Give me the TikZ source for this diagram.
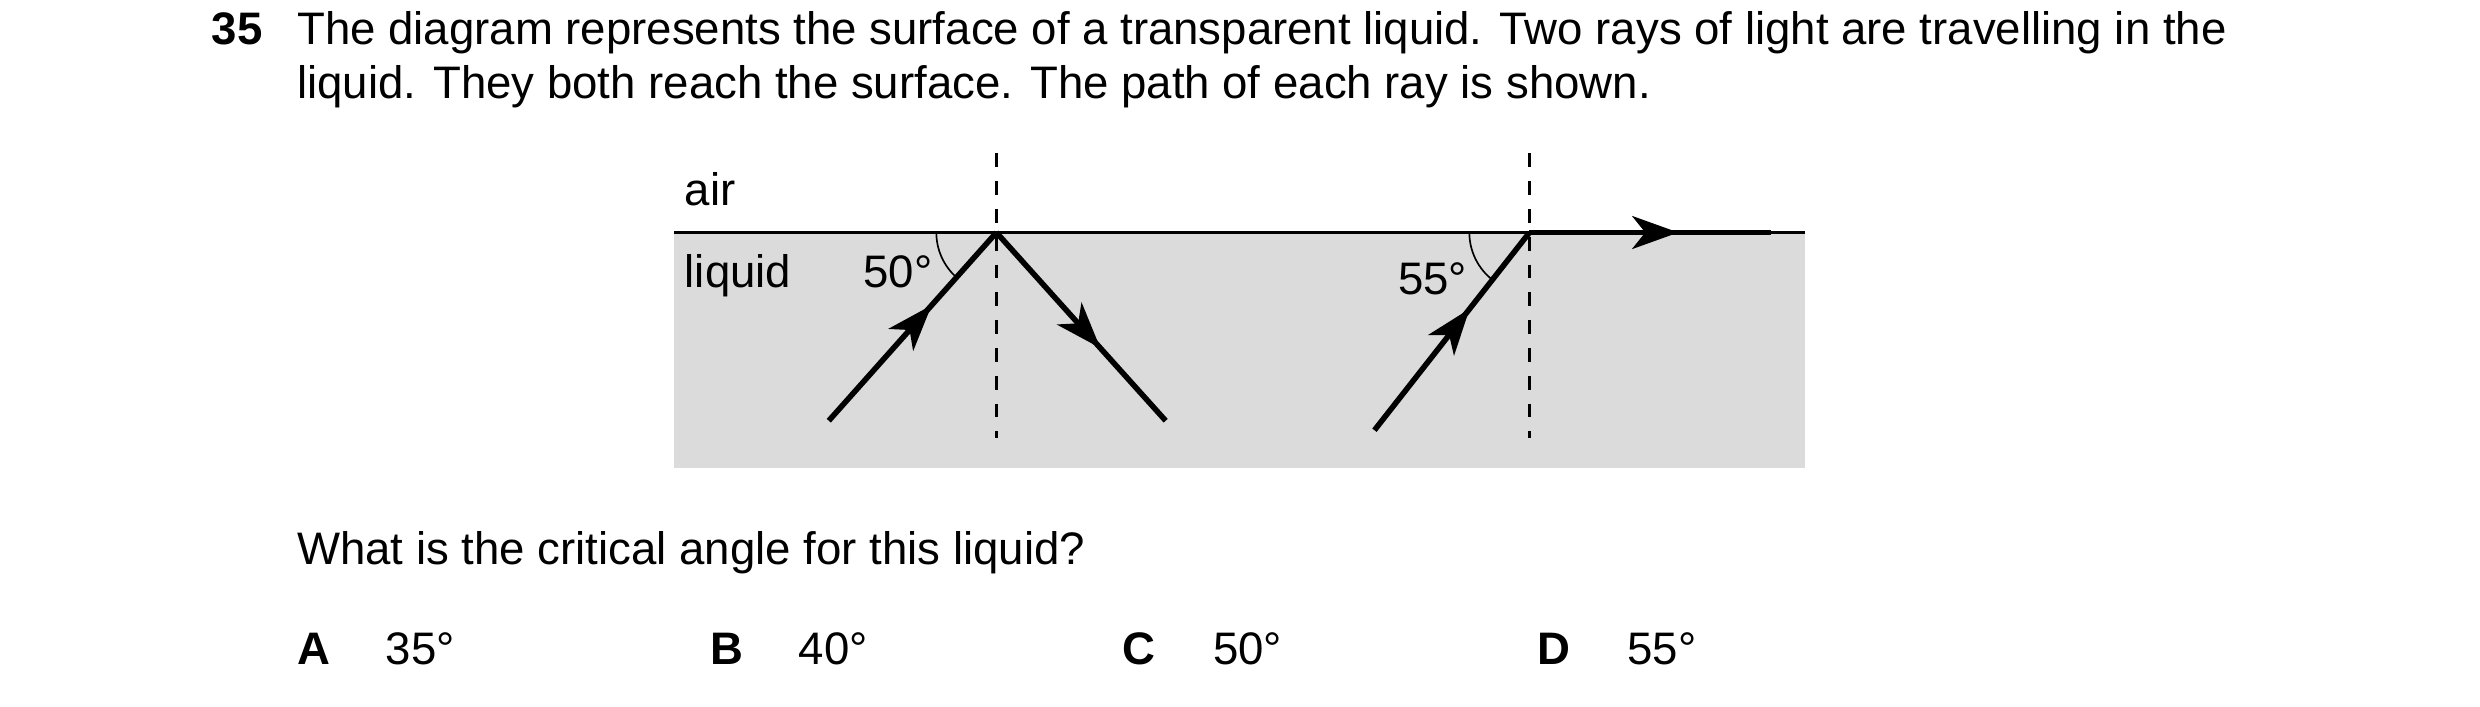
\documentclass[tikz,border=0pt]{standalone}
\usepackage{fontspec}
\setmainfont{Liberation Sans}
\usetikzlibrary{decorations.markings,arrows.meta}
\tikzset{every path/.style={line width=1.1pt}}
\tikzset{ray/.style={line width=2pt,decoration={markings,mark=at position 0.6 with {\arrow{Stealth[length=14pt,width=10pt,inset=4pt]}}},postaction={decorate}},
  normal/.style={line width=0.8pt,dash pattern=on 5pt off 5pt},
  txt/.style={anchor=base west,inner sep=0pt,font=\fontsize{16.4}{19}\selectfont}}

\begin{document}
\begin{tikzpicture}[x=0.02cm,y=-0.02cm]
    \useasboundingbox (0,0) rectangle (1568,447);
    \fill[gray!28] (426,147) rectangle (1141,296);
    \coordinate (L) at (426,147);
    \coordinate (R) at (1141,147);
    \draw[line width=1pt] (L) -- (R);
    \node[txt,font=\fontsize{16.4}{19}\selectfont\bfseries] (num) at (133,28) {35};
    \node[txt] (q1) at (187,28) {The diagram represents the surface of a transparent liquid. Two rays of light are travelling in the};
    \node[txt] (q2) at (187,62) {liquid. They both reach the surface. The path of each ray is shown.};
    \node[txt] (air) at (432,130) {air};
    \node[txt] (liq) at (432,182) {liquid};
    \node[txt] (a50) at (545,182) {50°};
    \node[txt] (a55) at (883,186) {55°};
    \coordinate (P) at (630,147);
    \coordinate (Q) at (967,147);
    \coordinate (n1t) at (630,97);
    \coordinate (n1b) at (630,277);
    \coordinate (n2t) at (967,97);
    \coordinate (n2b) at (967,277);
    \coordinate (s1) at (524,266);
    \coordinate (e1) at (737,266);
    \coordinate (s2) at (869,272);
    \coordinate (e2) at (1120,147);
    \draw[normal] (n1t) -- (n1b);
    \draw[normal] (n2t) -- (n2b);
    \draw[ray] (s1) -- (P);
    \draw[ray] (P) -- (e1);
    \draw[ray] (s2) -- (Q);
    \draw[ray] (Q) -- (e2);
    \draw[line width=0.6pt] (P) ++(180:38) arc (180:131.7:38);
    \draw[line width=0.6pt] (Q) ++(180:38) arc (180:128.1:38);
    \node[txt] (q3) at (187,357) {What is the critical angle for this liquid?};
    \node[txt,font=\fontsize{16.4}{19}\selectfont\bfseries] (oA) at (187,420) {A};
    \node[txt] (vA) at (243,420) {35°};
    \node[txt,font=\fontsize{16.4}{19}\selectfont\bfseries] (oB) at (448,420) {B};
    \node[txt] (vB) at (504,420) {40°};
    \node[txt,font=\fontsize{16.4}{19}\selectfont\bfseries] (oC) at (709,420) {C};
    \node[txt] (vC) at (766,420) {50°};
    \node[txt,font=\fontsize{16.4}{19}\selectfont\bfseries] (oD) at (971,420) {D};
    \node[txt] (vD) at (1028,420) {55°};
\end{tikzpicture}
\end{document}
